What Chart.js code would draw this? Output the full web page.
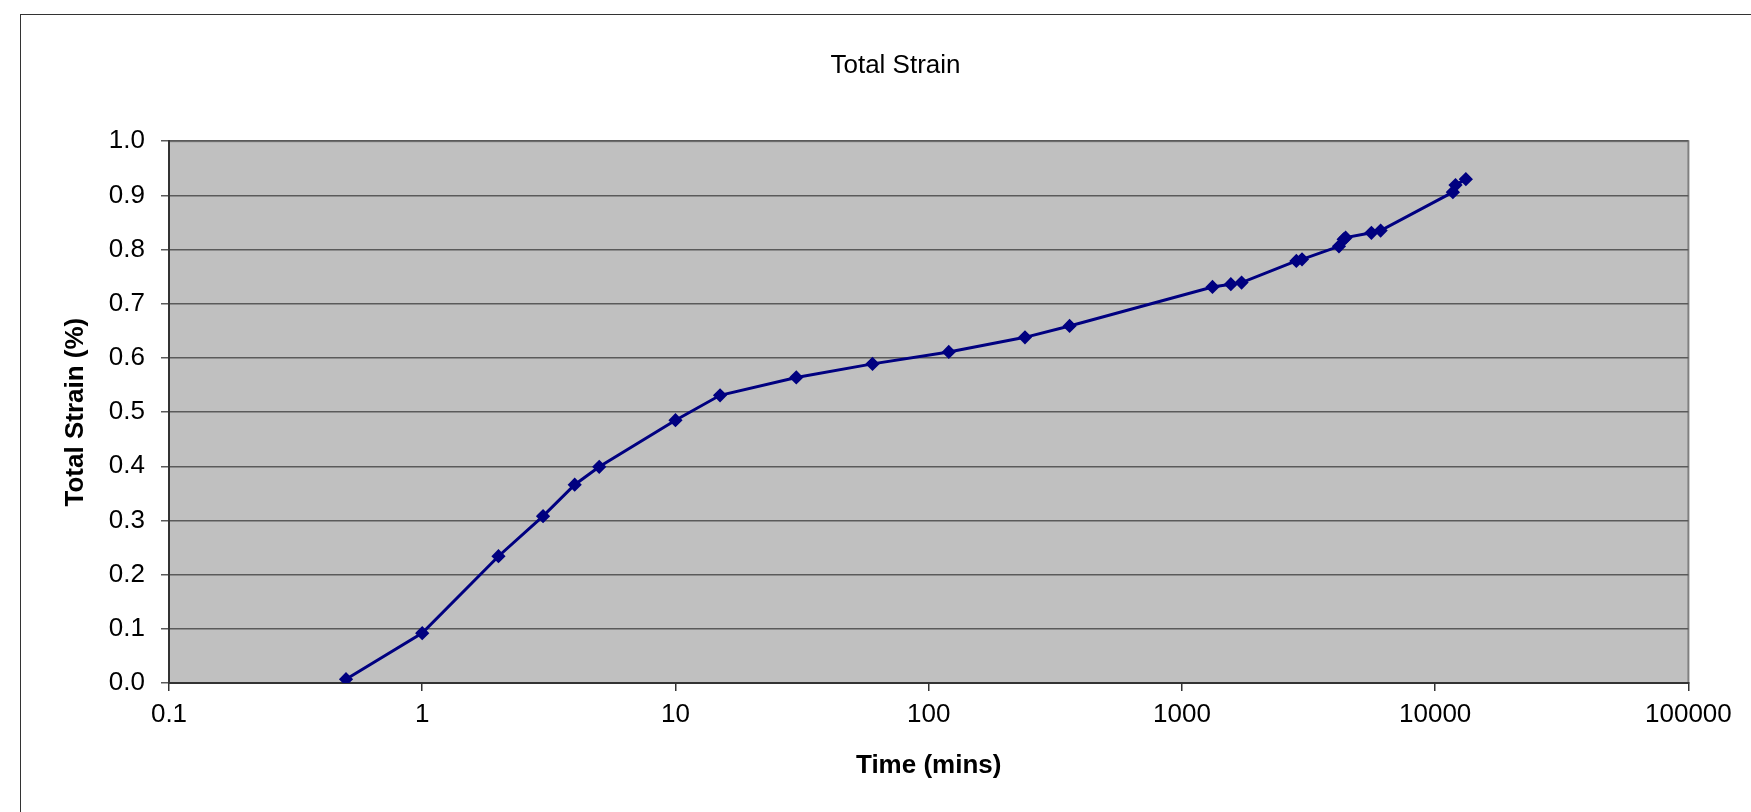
<!DOCTYPE html>
<html>
<head>
<meta charset="utf-8">
<script src="https://cdn.jsdelivr.net/npm/chart.js@4.4.1/dist/chart.umd.min.js"></script>
<style>
  html, body { margin: 0; padding: 0; background: #fff; overflow: hidden; }
  #frame { position: absolute; left: 20px; top: 14px; width: 2000px; height: 1000px;
           border-left: 1px solid #333; border-top: 1px solid #333; }
  #chart { position: absolute; left: 0; top: 0; }
</style>
</head>
<body>
<div id="frame"></div>
<canvas id="chart" width="1791" height="812"></canvas>
<script>
// time in minutes (log axis) and total strain in %
const times = [0.5, 1, 2, 3, 4, 5, 10, 15, 30, 60, 120, 240, 360,
  1320, 1560, 1720, 2830, 2980, 4170, 4350, 4430, 5600, 6090, 11750, 12030, 13220];
const strain = [0.007, 0.092, 0.234, 0.308, 0.366, 0.399, 0.485, 0.531, 0.564, 0.589, 0.611, 0.638, 0.659,
  0.731, 0.736, 0.739, 0.779, 0.782, 0.806, 0.819, 0.822, 0.831, 0.835, 0.906, 0.919, 0.930];
const xTicks = [0.1, 1, 10, 100, 1000, 10000, 100000];

const font = "'Liberation Sans', Arial, sans-serif";

const plotBg = {
  id: "plotBg",
  beforeDraw(chart) {
    const { ctx, chartArea: a } = chart;
    ctx.save();
    ctx.fillStyle = "#c0c0c0";
    ctx.fillRect(a.left, a.top, a.right - a.left, a.bottom - a.top);
    ctx.strokeStyle = "#808080";
    ctx.lineWidth = 2;
    ctx.strokeRect(a.left, a.top, a.right - a.left, a.bottom - a.top);
    ctx.restore();
  }
};

new Chart(document.getElementById("chart"), {
  type: "line",
  data: {
    datasets: [{
      label: "Total Strain",
      data: times.map((t, i) => ({ x: t, y: strain[i] })),
      borderColor: "#000080",
      backgroundColor: "#000080",
      borderWidth: 3,
      pointStyle: "rectRot",
      pointRadius: 5,
      pointHoverRadius: 5,
      tension: 0
    }]
  },
  options: {
    responsive: false,
    devicePixelRatio: 1,
    animation: false,
    layout: { padding: 0 },
    plugins: {
      legend: { display: false },
      tooltip: { enabled: false },
      title: {
        display: true,
        text: "Total Strain",
        color: "#000",
        font: { family: font, size: 26, weight: "normal" },
        padding: { top: 50, bottom: 60 }
      }
    },
    scales: {
      x: {
        type: "logarithmic",
        min: 0.1,
        max: 100000,
        afterBuildTicks: (s) => { s.ticks = xTicks.map(v => ({ value: v })); },
        afterFit: (s) => { s.height = 129; },
        ticks: {
          color: "#000",
          font: { family: font, size: 26 },
          padding: 8,
          maxRotation: 0,
          autoSkip: false,
          callback: (v) => String(v)
        },
        grid: { drawOnChartArea: false, drawTicks: true, tickLength: 8, color: "#333", lineWidth: 1.5 },
        border: { display: true, color: "#333", width: 2 },
        title: {
          display: true,
          text: "Time (mins)",
          color: "#000",
          font: { family: font, size: 26, weight: "bold" },
          padding: { top: 0, bottom: 31 }
        }
      },
      y: {
        min: 0,
        max: 1,
        afterFit: (s) => { s.width = 169; },
        ticks: {
          stepSize: 0.1,
          color: "#000",
          font: { family: font, size: 26 },
          padding: 16,
          callback: (v) => Number(v).toFixed(1)
        },
        grid: { color: "#5a5a5a", lineWidth: 1.5, tickLength: 8 },
        border: { display: true, color: "#333", width: 2 },
        title: {
          display: true,
          text: "Total Strain (%)",
          color: "#000",
          font: { family: font, size: 26, weight: "bold" },
          padding: { top: 60, bottom: 0 }
        }
      },
      // empty spacer on the right so the title centres on the outer frame
      spacer: {
        position: "right",
        min: 0,
        max: 1,
        afterFit: (s) => { s.width = 102.6; },
        ticks: { display: false },
        grid: { display: false },
        border: { display: false }
      }
    }
  },
  plugins: [plotBg]
});
</script>
</body>
</html>
